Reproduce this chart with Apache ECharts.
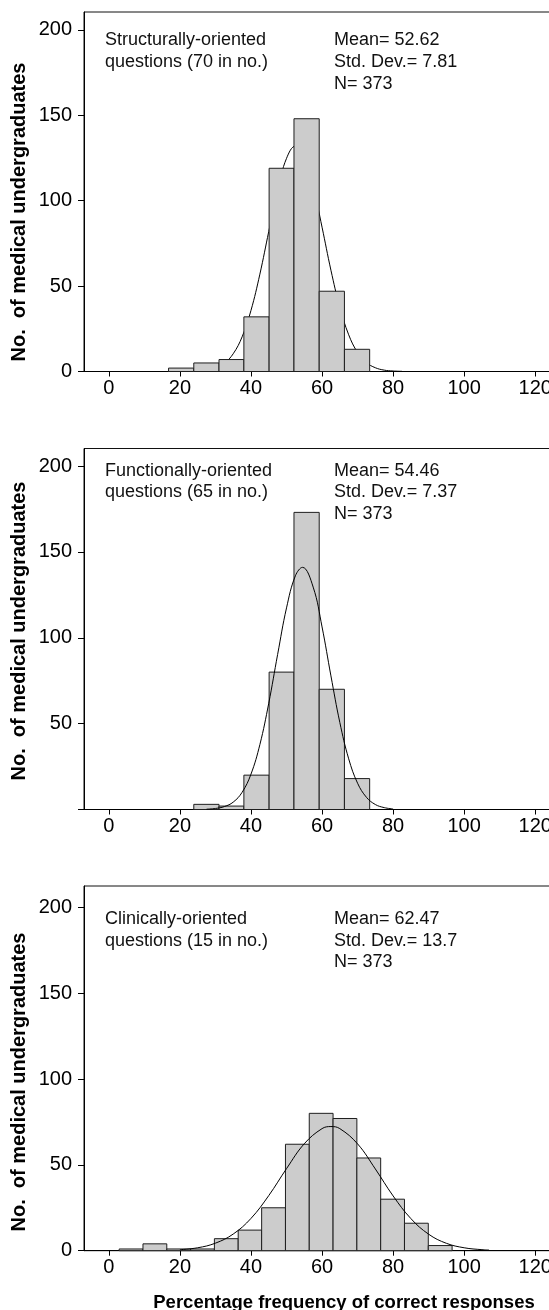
<!DOCTYPE html>
<html>
<head>
<meta charset="utf-8">
<script src="https://cdn.jsdelivr.net/npm/echarts@6/dist/echarts.min.js"></script>
<style>
html,body{margin:0;padding:0;background:#fff;}
#chart{width:549px;height:1310px;}
</style>
</head>
<body>
<div id="chart"></div>
<script>
// ---------- data ----------
const xTickValues = [0, 20, 40, 60, 80, 100, 120];
const yTickValues = [0, 50, 100, 150, 200];

// Panel 1: Structurally-oriented questions
const edges1 = [16.8, 23.9, 31.0, 38.0, 45.1, 52.1, 59.2, 66.3, 73.4];
const counts1 = [2, 5, 7, 32, 119, 148, 47, 13];
const curveX1 = [20, 22.5, 25, 27.5, 30, 32.5, 35, 37.5, 40, 42.5, 45, 47.5, 50, 52.5, 55, 57.5, 60, 62.5, 65, 67.5, 70, 72.5, 75, 77.5, 80, 82.5];
const curveY1 = [0.0, 0.1, 0.3, 0.8, 2.0, 4.8, 10.4, 20.3, 35.8, 57.0, 82.0, 106.4, 124.8, 132.0, 126.0, 108.6, 84.5, 59.3, 37.6, 21.5, 11.1, 5.2, 2.2, 0.8, 0.3, 0.1];
const labels1 = ["Structurally-oriented", "questions (70 in no.)"];
const stats1 = ["Mean= 52.62", "Std. Dev.= 7.81", "N= 373"];

// Panel 2: Functionally-oriented questions
const edges2 = [23.9, 31.0, 38.0, 45.1, 52.1, 59.2, 66.3, 73.4];
const counts2 = [3, 2, 20, 80, 173, 70, 18];
const curveX2 = [27.5, 30, 32.5, 35, 37.5, 40, 42.5, 45, 47.5, 50, 52.5, 54.5, 57.5, 60, 62.5, 65, 67.5, 70, 72.5, 75, 77.5, 80];
const curveY2 = [0.2, 0.6, 1.7, 4.3, 10.0, 20.6, 37.8, 61.9, 90.3, 117.4, 136.1, 141.0, 129.5, 106.3, 77.8, 50.7, 29.5, 15.3, 7.1, 2.9, 1.1, 0.3];
const labels2 = ["Functionally-oriented", "questions (65 in no.)"];
const stats2 = ["Mean= 54.46", "Std. Dev.= 7.37", "N= 373"];

// Panel 3: Clinically-oriented questions
const edges3 = [2.9, 9.6, 16.3, 23.0, 29.7, 36.4, 43.0, 49.7, 56.4, 63.1, 69.8, 76.5, 83.2, 89.9, 96.6];
const counts3 = [1, 4, 1, 1, 7, 12, 25, 62, 80, 77, 54, 30, 16, 3];
const curveX3 = [20, 25, 30, 35, 40, 45, 50, 55, 60, 62.5, 65, 70, 75, 80, 85, 90, 95, 100, 105, 107];
const curveY3 = [0.6, 1.7, 4.4, 9.7, 18.8, 32.1, 47.8, 62.3, 71.1, 72.3, 71.1, 62.2, 47.6, 31.9, 18.7, 9.6, 4.3, 1.7, 0.6, 0.4];
const labels3 = ["Clinically-oriented", "questions (15 in no.)"];
const stats3 = ["Mean= 62.47", "Std. Dev.= 13.7", "N= 373"];

const yTitle = "No.  of medical undergraduates";
const xTitle = "Percentage frequency of correct responses";

// ---------- chart ----------
const FONT = '"Liberation Sans", Arial, sans-serif';
const panels = [
  {edges: edges1, counts: counts1, cx: curveX1, cy: curveY1, labels: labels1, stats: stats1,
   top: 12, height: 359.5, ymax: 210.5, lineAbove: false, yLabels: yTickValues,
   textY: [40.5, 62.2, 83.8], titleY: 212},
  {edges: edges2, counts: counts2, cx: curveX2, cy: curveY2, labels: labels2, stats: stats2,
   top: 448.5, height: 361, ymax: 210.2, lineAbove: true, yLabels: yTickValues.filter(v => v !== 0),
   textY: [471, 492.5, 514], titleY: 631},
  {edges: edges3, counts: counts3, cx: curveX3, cy: curveY3, labels: labels3, stats: stats3,
   top: 886, height: 364.7, ymax: 212.4, lineAbove: true, yLabels: yTickValues,
   textY: [919, 940.7, 962.3], titleY: 1082}
];

const grid = [], xAxis = [], yAxis = [], series = [], graphic = [];
panels.forEach((p, i) => {
  grid.push({left: 84, width: 469, top: p.top, height: p.height,
    containLabel: false, outerBoundsMode: 'none',
    show: true, borderColor: '#111', borderWidth: 1, backgroundColor: 'transparent'});
  xAxis.push({type: 'value', gridIndex: i, min: -7, max: 125,
    axisLine: {show: true, onZero: false, lineStyle: {color: '#000', width: 1}},
    axisTick: {show: true, customValues: xTickValues, length: 5, inside: false, lineStyle: {color: '#000'}},
    axisLabel: {show: true, customValues: xTickValues, color: '#000', fontFamily: FONT, fontSize: 20, margin: 7},
    splitLine: {show: false}});
  yAxis.push({type: 'value', gridIndex: i, min: 0, max: p.ymax,
    axisLine: {show: true, onZero: false, lineStyle: {color: '#000', width: 1}},
    axisTick: {show: true, customValues: yTickValues, length: 6, inside: false, lineStyle: {color: '#000'}},
    axisLabel: {show: true, customValues: p.yLabels, color: '#000', fontFamily: FONT, fontSize: 20, margin: 12},
    splitLine: {show: false}});
  const barData = p.counts.map((c, k) => [p.edges[k], p.edges[k + 1], c]);
  series.push({type: 'custom', xAxisIndex: i, yAxisIndex: i, z: 2,
    encode: {x: [0, 1], y: 2},
    data: barData,
    renderItem: function (params, api) {
      const x0 = api.value(0), x1 = api.value(1), v = api.value(2);
      const a = api.coord([x0, v]);
      const b = api.coord([x1, 0]);
      return {type: 'rect',
        shape: {x: a[0], y: a[1], width: b[0] - a[0], height: b[1] - a[1]},
        style: {fill: '#cccccc', stroke: '#1e1e1e', lineWidth: 1}};
    }});
  series.push({type: 'line', xAxisIndex: i, yAxisIndex: i, z: p.lineAbove ? 3 : 1,
    data: p.cx.map((x, k) => [x, p.cy[k]]),
    smooth: 0.4, symbol: 'none', silent: true,
    lineStyle: {color: '#000', width: 1}});
  p.labels.forEach((t, k) => graphic.push({type: 'text', x: 105, y: p.textY[k],
    style: {text: t, fill: '#111', font: '18px ' + FONT, textVerticalAlign: 'middle'}}));
  p.stats.forEach((t, k) => graphic.push({type: 'text', x: 334, y: p.textY[k],
    style: {text: t, fill: '#111', font: '18px ' + FONT, textVerticalAlign: 'middle'}}));
  graphic.push({type: 'text', x: 19.5, y: p.titleY, rotation: Math.PI / 2,
    style: {text: yTitle, fill: '#000', font: 'bold 20px ' + FONT, textAlign: 'center', textVerticalAlign: 'middle'}});
});
graphic.push({type: 'text', x: 344, y: 1303,
  style: {text: xTitle, fill: '#000', font: 'bold 18.5px ' + FONT, textAlign: 'center', textVerticalAlign: 'middle'}});

const chart = echarts.init(document.getElementById('chart'), null, {renderer: 'canvas'});
chart.setOption({animation: false, backgroundColor: '#fff', grid, xAxis, yAxis, series, graphic});
</script>
</body>
</html>
